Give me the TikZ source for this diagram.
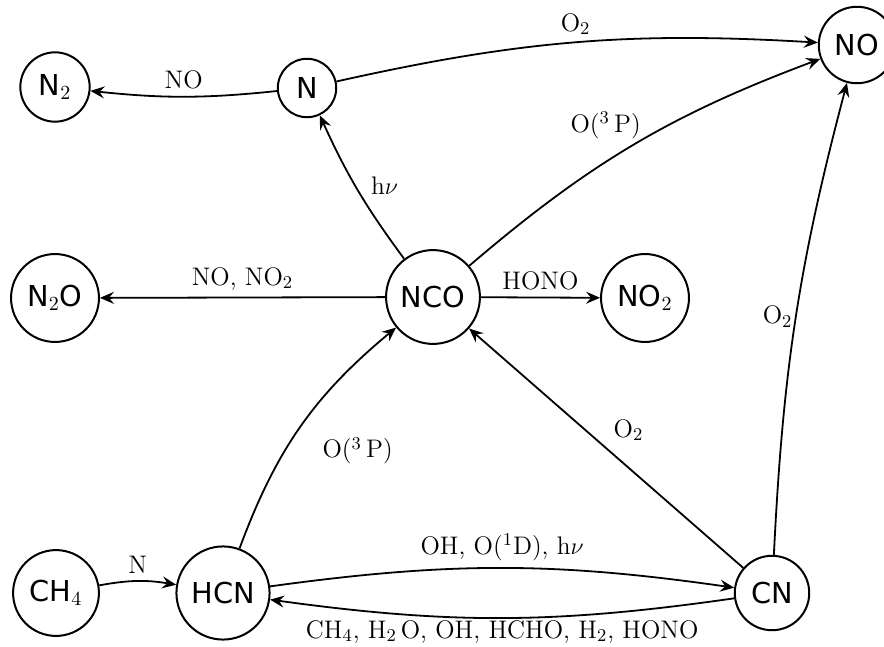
\documentclass[tikz,border=0pt]{standalone}
\usepackage{fontspec}
\newfontfamily\speciesfont{DejaVu Sans}
\usetikzlibrary{arrows.meta}

\begin{document}
\begin{tikzpicture}[
    x=0.5pt, y=-0.5pt,
    >={Stealth[length=7pt, width=6pt, inset=2.5pt]},
    every node/.style={font=\fontsize{12.7}{15}\selectfont},
    species/.style={draw, circle, line width=1pt, inner sep=5pt, font=\Large\speciesfont},
    reaction/.style={->, line width=0.9pt}
]
\useasboundingbox (0,0) rectangle (884,647);

\node[species] (N2) at (55,87) {N$_2$};
\node[species] (N) at (307,88) {N};
\node[species] (NO) at (857,45) {NO};
\node[species] (N2O) at (55,298) {N$_2$O};
\node[species] (NCO) at (433,297) {NCO};
\node[species] (NO2) at (645,298) {NO$_2$};
\node[species] (CH4) at (56,593) {CH$_4$};
\node[species] (HCN) at (223,593) {HCN};
\node[species] (CN) at (772,593) {CN};

\draw[reaction] (N) to[bend left=6] node[above] {NO} (N2);
\draw[reaction] (N) to[bend left=8] node[above] {O$_2$} (NO);
\draw[reaction] (NCO) to[bend left=6] node[right, xshift=3pt, yshift=2pt] {h$\nu$} (N);
\draw[reaction] (NCO) to[bend left=10] node[above left, xshift=7pt, yshift=-1pt] {O($^3$\,P)} (NO);
\draw[reaction] (NCO) -- node[above] {NO, NO$_2$} (N2O);
\draw[reaction] (NCO) -- node[above] {HONO} (NO2);
\draw[reaction] (HCN) to[bend left=15] node[below right, xshift=7pt, yshift=-2pt] {O($^3$\,P)} (NCO);
\draw[reaction] (CN) -- node[above right] {O$_2$} (NCO);
\draw[reaction] (CN) to[bend left=6] node[left, xshift=2pt] {O$_2$} (NO);
\draw[reaction] (HCN) to[bend left=8] node[above] {OH, O($^1$D), h$\nu$} (CN);
\draw[reaction] (CN) to[bend left=8] node[below, yshift=2.5pt] {CH$_4$, H$_2\,$O, OH, HCHO, H$_2$, HONO} (HCN);
\draw[reaction] (CH4) to[bend left=10] node[above] {N} (HCN);

\end{tikzpicture}
\end{document}
